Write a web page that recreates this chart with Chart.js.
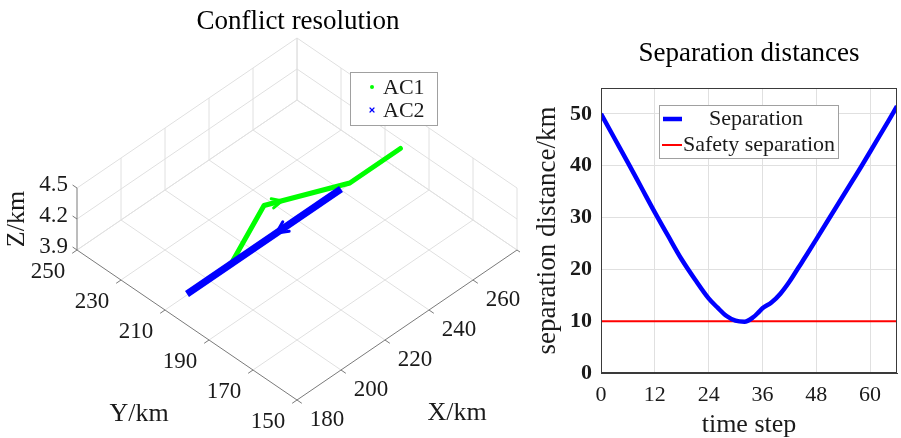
<!DOCTYPE html>
<html><head><meta charset="utf-8">
<script src="https://cdn.jsdelivr.net/npm/chart.js@4/dist/chart.umd.min.js"></script>
<style>
html,body{margin:0;padding:0;background:#fff;}
#wrap{position:relative;width:901px;height:438px;overflow:hidden;background:#fff;}
#left{position:absolute;left:0;top:0;}
#right{position:absolute;left:520px;top:0;}
</style></head><body>
<div id="wrap"><canvas id="left" width="520" height="438"></canvas><canvas id="right" width="381" height="438"></canvas></div>
<script>
// ---------------- data ----------------
// 3-D trajectories (km)
const ac1X = [200, 227, 254, 277];
const ac1Y = [200, 212, 200, 200];
const ac1Z = [4.2, 4.2, 4.2, 4.2];
const ac2X = [250, 180];
const ac2Y = [200, 200];
const ac2Z = [4.2, 4.2];
// direction arrows: segment index and fraction along it
const ac1Arrow = { seg: 1, frac: 0.21 };
const ac2Arrow = { seg: 0, frac: 0.42 };
// 3-D axis ticks
const xTicks3d = [180, 200, 220, 240, 260, 280];
const yTicks3d = [150, 170, 190, 210, 230, 250];
const zTicks3d = [3.9, 4.2, 4.5];
// separation distances
const timeStep   = [0, 3, 6, 9, 12, 15, 18, 21, 24, 26, 28, 30, 32, 34, 35, 36, 38, 40, 42, 44, 46, 48, 50, 52, 54, 56, 58, 60, 62, 64, 66];
const separation = [50, 45.3, 40.6, 35.8, 31.0, 26.4, 21.9, 18.0, 14.4, 12.6, 11.0, 10.1, 9.9, 10.8, 11.6, 12.5, 13.6, 15.3, 17.6, 20.3, 23.0, 25.8, 28.6, 31.4, 34.2, 37.0, 39.8, 42.7, 45.6, 48.5, 51.5];
const safetyT = [0, 66];
const safetyD = [10, 10];
const xTicks = [0, 12, 24, 36, 48, 60];
const yTicks = [0, 10, 20, 30, 40, 50];

// ---------------- styles ----------------
const FONT = "'Liberation Serif', 'Times New Roman', serif";
const TXT = '#1a1a1a';
const GRID = '#e0e0e0';
const AXIS = '#7a7a7a';

const X0 = xTicks3d[0], X1 = xTicks3d[xTicks3d.length - 1];
const Y0 = yTicks3d[0], Y1 = yTicks3d[yTicks3d.length - 1];
const Z0 = zTicks3d[0], Z1 = zTicks3d[zTicks3d.length - 1];

// orthographic view projection (view space = canvas units)
function project(X, Y, Z) {
  return {
    x: 77 + 2.2 * (X - X0) + 2.2 * (Y1 - Y),
    y: 250 - 1.5 * (X - X0) + 1.5 * (Y1 - Y) - 103.3 * (Z - Z0)
  };
}
function toPts(xs, ys, zs) { return xs.map((x, i) => project(x, ys[i], zs[i])); }

function P(chart, X, Y, Z) {
  const q = project(X, Y, Z);
  return [chart.scales.x.getPixelForValue(q.x), chart.scales.y.getPixelForValue(q.y)];
}
function seg(ctx, a, b) { ctx.beginPath(); ctx.moveTo(a[0], a[1]); ctx.lineTo(b[0], b[1]); ctx.stroke(); }

const box3d = {
  id: 'box3d',
  beforeDatasetsDraw(chart) {
    const ctx = chart.ctx;
    ctx.save();
    ctx.lineWidth = 1;
    ctx.strokeStyle = GRID;
    // floor grid
    xTicks3d.forEach(x => { if (x !== X0) seg(ctx, P(chart, x, Y0, Z0), P(chart, x, Y1, Z0)); });
    yTicks3d.forEach(y => { if (y !== Y0) seg(ctx, P(chart, X0, y, Z0), P(chart, X1, y, Z0)); });
    // back wall Y = Y1
    xTicks3d.forEach(x => { if (x !== X0) seg(ctx, P(chart, x, Y1, Z0), P(chart, x, Y1, Z1)); });
    zTicks3d.forEach(z => seg(ctx, P(chart, X0, Y1, z), P(chart, X1, Y1, z)));
    // back wall X = X1
    yTicks3d.forEach(y => seg(ctx, P(chart, X1, y, Z0), P(chart, X1, y, Z1)));
    zTicks3d.forEach(z => seg(ctx, P(chart, X1, Y0, z), P(chart, X1, Y1, z)));
    // axes
    ctx.strokeStyle = AXIS;
    seg(ctx, P(chart, X0, Y1, Z0), P(chart, X0, Y1, Z1));
    seg(ctx, P(chart, X0, Y0, Z0), P(chart, X0, Y1, Z0));
    seg(ctx, P(chart, X0, Y0, Z0), P(chart, X1, Y0, Z0));
    xTicks3d.forEach(x => seg(ctx, P(chart, x, Y0, Z0), P(chart, x, Y0 - 2.2, Z0)));
    yTicks3d.forEach(y => seg(ctx, P(chart, X0, y, Z0), P(chart, X0 - 2.2, y, Z0)));
    zTicks3d.forEach(z => seg(ctx, P(chart, X0, Y1, z), P(chart, X0, Y1 + 2, z)));
    // tick labels
    ctx.fillStyle = TXT;
    ctx.font = '23px ' + FONT;
    ctx.textAlign = 'center';
    ctx.textBaseline = 'middle';
    xTicks3d.forEach(x => { const p = P(chart, x, Y0, Z0); ctx.fillText(String(x), p[0] + 30, p[1] + 20); });
    yTicks3d.forEach(y => { const p = P(chart, X0, y, Z0); ctx.fillText(String(y), p[0] - 29, p[1] + 22); });
    ctx.textAlign = 'right';
    zTicks3d.forEach(z => { const p = P(chart, X0, Y1, z); ctx.fillText(z.toFixed(1), p[0] - 9, p[1] - 3); });
    // axis titles
    ctx.font = '26px ' + FONT;
    ctx.textAlign = 'center';
    ctx.fillText('X/km', 457, 413);
    ctx.fillText('Y/km', 139, 414);
    ctx.save();
    ctx.translate(17, 219);
    ctx.rotate(-Math.PI / 2);
    ctx.fillText('Z/km', 0, 0);
    ctx.restore();
    // title
    ctx.fillStyle = '#000';
    ctx.font = '27px ' + FONT;
    ctx.fillText('Conflict resolution', 298, 22);
    ctx.restore();
  },
  afterDatasetsDraw(chart) {
    const ctx = chart.ctx;
    ctx.save();
    // arrows
    const arrows = [[ac1X, ac1Y, ac1Z, ac1Arrow, '#00ff00', 11], [ac2X, ac2Y, ac2Z, ac2Arrow, '#0000ff', 13]];
    arrows.forEach(([xs, ys, zs, a, col, L]) => {
      const i = a.seg, f = a.frac;
      const A = P(chart, xs[i], ys[i], zs[i]);
      const B = P(chart, xs[i + 1], ys[i + 1], zs[i + 1]);
      const tip = [A[0] + (B[0] - A[0]) * f, A[1] + (B[1] - A[1]) * f];
      const ang = Math.atan2(B[1] - A[1], B[0] - A[0]);
      const w = 0.45;
      ctx.strokeStyle = col; ctx.lineWidth = 3; ctx.lineCap = 'round';
      ctx.beginPath();
      ctx.moveTo(tip[0] - L * Math.cos(ang - w), tip[1] - L * Math.sin(ang - w));
      ctx.lineTo(tip[0], tip[1]);
      ctx.lineTo(tip[0] - L * Math.cos(ang + w), tip[1] - L * Math.sin(ang + w));
      ctx.stroke();
    });
    // legend
    ctx.fillStyle = '#fff';
    ctx.fillRect(350.5, 72.5, 87, 53);
    ctx.strokeStyle = '#a0a0a0'; ctx.lineWidth = 1;
    ctx.strokeRect(350.5, 72.5, 87, 53);
    const ds = chart.data.datasets;
    ctx.font = '22px ' + FONT; ctx.textAlign = 'left'; ctx.textBaseline = 'middle';
    // AC1 marker: point
    ctx.fillStyle = ds[0].borderColor;
    ctx.beginPath(); ctx.arc(372, 87, 2, 0, Math.PI * 2); ctx.fill();
    // AC2 marker: cross
    ctx.strokeStyle = ds[1].borderColor; ctx.lineWidth = 1.2;
    seg(ctx, [370, 108], [374, 112]); seg(ctx, [374, 108], [370, 112]);
    ctx.fillStyle = TXT;
    ctx.fillText(ds[0].label, 383, 88);
    ctx.fillText(ds[1].label, 383, 111);
    ctx.restore();
  }
};

new Chart(document.getElementById('left'), {
  type: 'scatter',
  data: {
    datasets: [
      { label: 'AC1', data: toPts(ac1X, ac1Y, ac1Z), showLine: true, borderColor: '#00ff00', backgroundColor: '#00ff00',
        borderWidth: 5, pointRadius: 0, borderCapStyle: 'round', borderJoinStyle: 'round', order: 2 },
      { label: 'AC2', data: toPts(ac2X, ac2Y, ac2Z), showLine: true, borderColor: '#0000ff', backgroundColor: '#0000ff',
        borderWidth: 7, pointRadius: 0, borderCapStyle: 'butt', order: 1 }
    ]
  },
  options: {
    responsive: false, animation: false, devicePixelRatio: 1,
    layout: { padding: 0 },
    plugins: { legend: { display: false }, tooltip: { enabled: false }, title: { display: false } },
    scales: {
      x: { type: 'linear', min: 0, max: 520, display: false },
      y: { type: 'linear', min: 0, max: 438, reverse: true, display: false }
    }
  },
  plugins: [box3d]
});

// ---------------- right chart ----------------
const frame2d = {
  id: 'frame2d',
  afterDraw(chart) {
    const ctx = chart.ctx, a = chart.chartArea;
    ctx.save();
    ctx.strokeStyle = '#3a3a3a'; ctx.lineWidth = 1;
    ctx.strokeRect(Math.round(a.left) + 0.5, Math.round(a.top) + 0.5, Math.round(a.right - a.left) - 1, Math.round(a.bottom - a.top) - 1);
    // legend
    const bx = 139.5, by = 105.5, bw = 179, bh = 53;
    ctx.fillStyle = '#fff'; ctx.fillRect(bx, by, bw, bh);
    ctx.strokeStyle = '#a0a0a0'; ctx.strokeRect(bx, by, bw, bh);
    const ds = chart.data.datasets;
    ctx.lineCap = 'butt';
    ctx.strokeStyle = ds[0].borderColor; ctx.lineWidth = ds[0].borderWidth;
    seg(ctx, [143, 119], [162, 119]);
    ctx.strokeStyle = ds[1].borderColor; ctx.lineWidth = ds[1].borderWidth;
    seg(ctx, [142, 145], [162, 145]);
    ctx.fillStyle = TXT; ctx.font = '22px ' + FONT; ctx.textBaseline = 'middle';
    ctx.textAlign = 'center'; ctx.fillText(ds[0].label, 236, 119);
    ctx.textAlign = 'left'; ctx.fillText(ds[1].label, 163, 145);
    ctx.restore();
  }
};

new Chart(document.getElementById('right'), {
  type: 'scatter',
  data: {
    datasets: [
      { label: 'Separation', data: timeStep.map((t, i) => ({ x: t, y: separation[i] })), showLine: true,
        borderColor: '#0000ff', borderWidth: 4.5, pointRadius: 0, cubicInterpolationMode: 'monotone' },
      { label: 'Safety separation', data: safetyT.map((t, i) => ({ x: t, y: safetyD[i] })), showLine: true,
        borderColor: '#ff0000', borderWidth: 2, pointRadius: 0 }
    ]
  },
  options: {
    responsive: false, animation: false, devicePixelRatio: 1,
    layout: { padding: { left: 0, right: 4, top: 0, bottom: 0 } },
    plugins: {
      legend: { display: false }, tooltip: { enabled: false },
      title: { display: true, text: 'Separation distances', fullSize: false, color: '#000',
        font: { family: FONT, size: 27, weight: 'normal', lineHeight: 1 }, padding: { top: 40.5, bottom: 20.5 } }
    },
    scales: {
      x: {
        type: 'linear', min: 0, max: 66,
        afterBuildTicks: s => { s.ticks = xTicks.map(v => ({ value: v })); },
        afterFit: s => { s.height = 65; },
        grid: { color: GRID, drawTicks: false },
        border: { color: '#3a3a3a' },
        ticks: { color: TXT, padding: 11, font: { family: FONT, size: 22, lineHeight: 1 } },
        title: { display: true, text: 'time step', color: TXT, padding: 0, font: { family: FONT, size: 26, lineHeight: 1 } }
      },
      y: {
        type: 'linear', min: 0, max: 55,
        afterBuildTicks: s => { s.ticks = yTicks.map(v => ({ value: v })); },
        afterFit: s => { s.width = 81; },
        grid: { color: GRID, drawTicks: false },
        border: { color: '#3a3a3a' },
        ticks: { color: TXT, padding: 9, font: { family: FONT, size: 22, weight: 'bold', lineHeight: 1 } },
        title: { display: true, text: 'separation distance/km', color: TXT, padding: { top: 14.5, bottom: 0 }, font: { family: FONT, size: 27, lineHeight: 1 } }
      }
    }
  },
  plugins: [frame2d]
});
</script>
</body></html>
